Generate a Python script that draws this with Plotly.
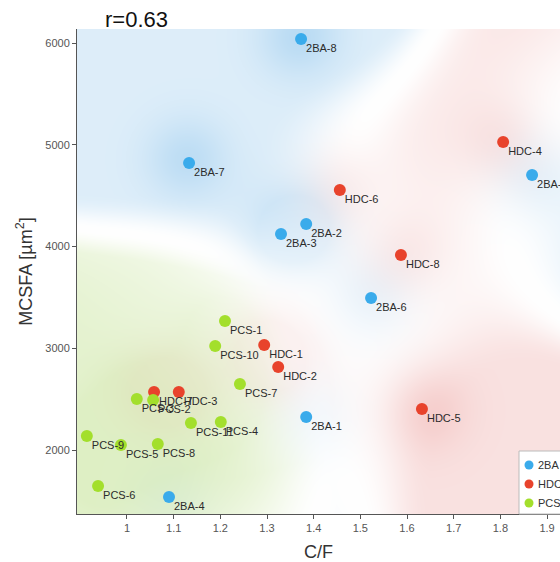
import base64
import struct
import zlib

import numpy as np
import plotly.graph_objects as go

# ---------------- data ----------------
ba_names = ["2BA-1", "2BA-2", "2BA-3", "2BA-4", "2BA-5", "2BA-6", "2BA-7", "2BA-8"]
ba_cf = [1.384, 1.384, 1.330, 1.090, 1.868, 1.523, 1.133, 1.373]
ba_mcsfa = [2324, 4221, 4123, 1538, 4703, 3494, 4821, 6039]

hdc_names = ["HDC-1", "HDC-2", "HDC-3", "HDC-4", "HDC-5", "HDC-6", "HDC-7", "HDC-8"]
hdc_cf = [1.294, 1.324, 1.111, 1.806, 1.632, 1.456, 1.058, 1.587]
hdc_mcsfa = [3032, 2816, 2570, 5027, 2403, 4555, 2570, 3916]

pcs_names = ["PCS-1", "PCS-2", "PCS-3", "PCS-4", "PCS-5", "PCS-6", "PCS-7",
             "PCS-8", "PCS-9", "PCS-10", "PCS-11"]
pcs_cf = [1.210, 1.056, 1.021, 1.201, 0.987, 0.938, 1.242, 1.066, 0.914, 1.189, 1.137]
pcs_mcsfa = [3268, 2491, 2501, 2275, 2049, 1646, 2649, 2059, 2138, 3022, 2265]

group_names = ["2BA", "HDC", "PCS"]
x_ticks = [1.0, 1.1, 1.2, 1.3, 1.4, 1.5, 1.6, 1.7, 1.8, 1.9]
x_tick_text = ["1", "1.1", "1.2", "1.3", "1.4", "1.5", "1.6", "1.7", "1.8", "1.9"]
y_ticks = [2000, 3000, 4000, 5000, 6000]
r_text = "r=0.63"

# ---------------- style ----------------
FONT = "Liberation Sans, Arial"
marker_colors = ["#3aabeb", "#e8432c", "#a3df2c"]
bg_colors = [(70, 160, 225), (226, 100, 95), (150, 205, 65)]
W, H = 483, 485
ML, MT, MB = 77, 29, 48
x_range = [0.8929, 1.9278]
y_range = [1371, 6138]

# ---------------- background field computed from the points ----------------
groups_xy = [(ba_cf, ba_mcsfa), (hdc_cf, hdc_mcsfa), (pcs_cf, pcs_mcsfa)]
gx = (np.arange(W) + 0.5)
gy = (np.arange(H) + 0.5)
GX, GY = np.meshgrid(gx, gy)


def to_px(xv, yv):
    xv = np.asarray(xv, float)
    yv = np.asarray(yv, float)
    px = (xv - x_range[0]) / (x_range[1] - x_range[0]) * W
    py = (y_range[1] - yv) / (y_range[1] - y_range[0]) * H
    return px, py


sig_b, sig_n = 72.0, 30.0
logD, N = [], []
for xv, yv in groups_xy:
    px, py = to_px(xv, yv)
    r2 = (GX[..., None] - px) ** 2 + (GY[..., None] - py) ** 2
    e = -r2 / (2 * sig_b ** 2)
    emax = e.max(-1)
    logD.append(emax + np.log(np.exp(e - emax[..., None]).sum(-1)))
    N.append(np.exp(-r2 / (2 * sig_n ** 2)).sum(-1))
logD = np.stack(logD)
N = np.stack(N)
logD -= logD.max(0)
P = np.exp(logD)
P /= P.sum(0)
order = np.sort(P, axis=0)
margin = np.clip(order[-1] - order[-2], 0, 1)
t = np.clip(margin / 0.55, 0, 1)
smooth = t * t * (3 - 2 * t)
m = np.argmax(P, axis=0)
base = np.array([0.18, 0.19, 0.25])[m]
alpha = base * smooth
cols = np.array(bg_colors, float)[m]
rgb = 255 * (1 - alpha[..., None]) + cols * alpha[..., None]
# local halo of each point in its group colour, weaker inside another group's zone
peaks = [0.26, 0.26, 0.10]
for c in range(3):
    a = (peaks[c] * np.clip(N[c], 0, 1) * (0.12 + 0.88 * P[c] ** 1.5))[..., None]
    rgb = rgb * (1 - a) + np.array(bg_colors[c], float) * a
rgb = np.clip(rgb, 0, 255).astype(np.uint8)


def png_uri(img):
    h, w, _ = img.shape
    raw = b"".join(b"\x00" + img[i].tobytes() for i in range(h))

    def chunk(tag, data):
        c = struct.pack(">I", len(data)) + tag + data
        return c + struct.pack(">I", zlib.crc32(tag + data) & 0xFFFFFFFF)

    png = b"\x89PNG\r\n\x1a\n" + chunk(b"IHDR", struct.pack(">IIBBBBB", w, h, 8, 2, 0, 0, 0))
    png += chunk(b"IDAT", zlib.compress(raw, 9)) + chunk(b"IEND", b"")
    return "data:image/png;base64," + base64.b64encode(png).decode()


# ---------------- figure ----------------
fig = go.Figure()
all_groups = [(ba_names, ba_cf, ba_mcsfa), (hdc_names, hdc_cf, hdc_mcsfa),
              (pcs_names, pcs_cf, pcs_mcsfa)]
for gname, (names, xv, yv), col in zip(group_names, all_groups, marker_colors):
    fig.add_trace(go.Scatter(
        x=xv, y=yv, mode="markers", name=gname, showlegend=False,
        marker=dict(size=12, color=col, line=dict(width=0)),
        text=names, hoverinfo="text"))
for gname, (names, xv, yv) in zip(group_names, all_groups):
    # labels: tiny invisible marker so the label sits close to the point
    fig.add_trace(go.Scatter(
        x=xv, y=yv, mode="markers+text", text=names, textposition="bottom right",
        textfont=dict(family=FONT, size=11, color="#2b2b2b"),
        marker=dict(size=6.4, color="rgba(0,0,0,0)"),
        showlegend=False, hoverinfo="skip"))

fig.add_layout_image(dict(
    source=png_uri(rgb), xref="x", yref="y", x=x_range[0], y=y_range[1],
    sizex=x_range[1] - x_range[0], sizey=y_range[1] - y_range[0],
    sizing="stretch", xanchor="left", yanchor="top", layer="below"))

axis_common = dict(showgrid=False, zeroline=False, showline=True, linecolor="#555555",
                   linewidth=1, ticks="outside", ticklen=4, tickcolor="#555555",
                   tickfont=dict(family=FONT, size=11, color="#555555"),
                   mirror=False)
fig.update_xaxes(range=x_range, tickvals=x_ticks, ticktext=x_tick_text,
                 title=dict(text="C/F", font=dict(family=FONT, size=18, color="#333333"),
                            standoff=12),
                 **axis_common)
fig.update_yaxes(range=y_range, tickvals=y_ticks,
                 title=dict(text="MCSFA [µm<sup>2</sup>]",
                            font=dict(family=FONT, size=18, color="#333333"), standoff=8),
                 **axis_common)

fig.add_annotation(text=r_text, xref="paper", yref="paper", x=(103 - ML) / W, y=1,
                   xanchor="left", yanchor="bottom", yshift=-5, showarrow=False,
                   font=dict(family=FONT, size=22, color="#111111"))

# legend box (partially cut by the right edge, as in the reference)
PH = 562 - MT - MB
leg_left = (519 - ML) / W
leg_top = (514 - 451) / PH
fig.add_shape(type="rect", xref="paper", yref="paper", x0=leg_left, x1=1.2, y0=0,
              y1=leg_top, fillcolor="white", line=dict(color="#bbbbbb", width=1),
              layer="above")
for i, (gname, col) in enumerate(zip(group_names, marker_colors)):
    yc = (514 - (465 + 19 * i)) / PH
    fig.add_shape(type="circle", xref="paper", yref="paper", xsizemode="pixel",
                  ysizemode="pixel", xanchor=(529 - ML) / W, yanchor=yc,
                  x0=-4.5, x1=4.5, y0=-4.5, y1=4.5, fillcolor=col,
                  line=dict(width=0), layer="above")
    fig.add_annotation(text=gname, xref="paper", yref="paper", x=(536 - ML) / W, y=yc,
                       xanchor="left", yanchor="middle", showarrow=False,
                       font=dict(family=FONT, size=11, color="#333333"))

fig.update_layout(
    width=560, height=562,
    margin=dict(l=ML, r=0, t=MT, b=MB, autoexpand=False),
    paper_bgcolor="white", plot_bgcolor="white",
    showlegend=False,
)

fig.write_html("out.html")
